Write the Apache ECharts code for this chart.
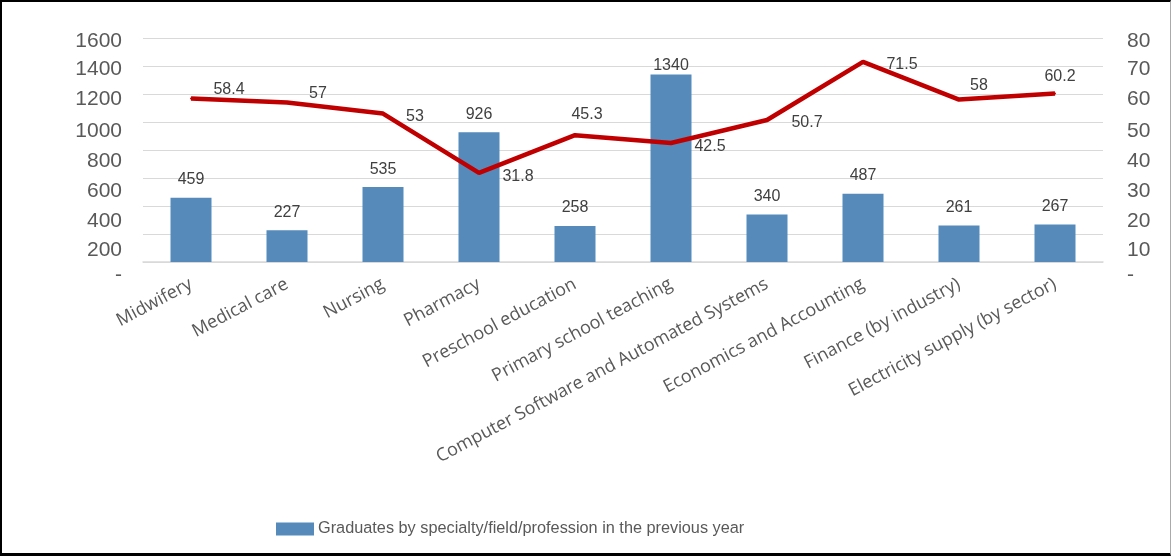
<!DOCTYPE html>
<html>
<head>
<meta charset="utf-8">
<script src="https://cdn.jsdelivr.net/npm/echarts@6/dist/echarts.min.js"></script>
<style>
  html, body { margin: 0; padding: 0; background: #fff; }
  #frame { position: absolute; left: 0; top: 0; width: 1171px; height: 556px; box-sizing: border-box;
           border-top: 2px solid #000; border-left: 2px solid #000; border-bottom: 3px solid #000; border-right: 1px solid #aaa; background: #fff; }
  #chart { position: absolute; left: 0; top: 0; width: 1172px; height: 557px; }
</style>
</head>
<body>
<div id="frame"></div>
<div id="chart"></div>
<script>
// ---- data ----
const categories = ['Midwifery', 'Medical care', 'Nursing', 'Pharmacy', 'Preschool education',
  'Primary school teaching', 'Computer Software and Automated Systems', 'Economics and Accounting',
  'Finance (by industry)', 'Electricity supply (by sector)'];
const graduates = [459, 227, 535, 926, 258, 1340, 340, 487, 261, 267];
const rateValues = [58.4, 57, 53, 31.8, 45.3, 42.5, 50.7, 71.5, 58, 60.2];
const leftTicks = [0, 200, 400, 600, 800, 1000, 1200, 1400, 1600];
const rightTicks = [0, 10, 20, 30, 40, 50, 60, 70, 80];
const seriesName = 'Graduates by specialty/field/profession in the previous year';

// ---- label placement (style only) ----
const tickLabelShift = [13, 16.5, 15, 13, 11, 9, 5.5, 3.5, 3.6];
const lineLabelShift = [[38, -8.5], [31, -9], [32, 3], [39, 4], [12, -21], [39, 4], [40, 3], [39, 3], [20, -14], [5, -17]];
const barLabelShiftY = [0, 0, 0, 0, 0, 9, 0, 0, 0, 0];

const axisFont = { fontFamily: 'Liberation Sans', fontSize: 21, color: '#595959' };
function richFor() {
  const r = {};
  tickLabelShift.forEach((s, i) => {
    r['s' + i] = Object.assign({ padding: [2 * s, 0, 0, 0] }, axisFont);
  });
  return r;
}
function fmt(ticks) {
  return function (v) {
    const i = ticks.indexOf(v);
    const txt = v === 0 ? '-' : String(v);
    return '{s' + (i < 0 ? 0 : i) + '|' + txt + '}';
  };
}

const chart = echarts.init(document.getElementById('chart'), null, { renderer: 'canvas' });
chart.setOption({
  animation: false,
  backgroundColor: 'transparent',
  grid: { left: 143, right: 69, top: 38, height: 224, containLabel: false },
  legend: {
    data: [seriesName],
    left: 271, top: 516,
    icon: 'rect', itemWidth: 38, itemHeight: 13, itemGap: 10,
    textStyle: { fontFamily: 'Liberation Sans', fontSize: 16.3, color: '#595959', padding: [0, 0, 0, -1] }
  },
  xAxis: {
    type: 'category',
    data: categories,
    axisTick: { show: false },
    axisLine: { lineStyle: { color: '#D9D9D9', width: 1.5 } },
    axisLabel: { rotate: 28, interval: 0, margin: 21, fontFamily: 'Open Sans', fontSize: 18, color: '#595959' }
  },
  yAxis: [
    {
      type: 'value', min: 0, max: 1600, interval: 200,
      axisLine: { show: false }, axisTick: { show: false },
      splitLine: { lineStyle: { color: '#D9D9D9', width: 1 } },
      axisLabel: Object.assign({ margin: 21, formatter: fmt(leftTicks), rich: richFor() }, axisFont)
    },
    {
      type: 'value', min: 0, max: 80, interval: 10,
      axisLine: { show: false }, axisTick: { show: false },
      splitLine: { show: false },
      axisLabel: Object.assign({ margin: 24, formatter: fmt(rightTicks), rich: richFor() }, axisFont)
    }
  ],
  series: [
    {
      name: seriesName,
      type: 'bar',
      yAxisIndex: 0,
      barWidth: 41,
      itemStyle: { color: '#558ABB' },
      data: graduates.map((v, i) => ({
        value: v,
        label: { offset: [0, barLabelShiftY[i]] }
      })),
      label: { show: true, position: 'top', distance: 10, fontFamily: 'Liberation Sans', fontSize: 16, color: '#404040' }
    },
    {
      name: 'rate',
      type: 'line',
      yAxisIndex: 1,
      symbol: 'circle', symbolSize: 2, showSymbol: true,
      lineStyle: { color: '#C00000', width: 4.5 },
      itemStyle: { color: '#C00000' },
      z: 5,
      data: rateValues.map((v, i) => ({
        value: v,
        label: { offset: lineLabelShift[i] }
      })),
      label: { show: true, position: 'inside', fontFamily: 'Liberation Sans', fontSize: 16, color: '#404040' }
    }
  ]
});
</script>
</body>
</html>
